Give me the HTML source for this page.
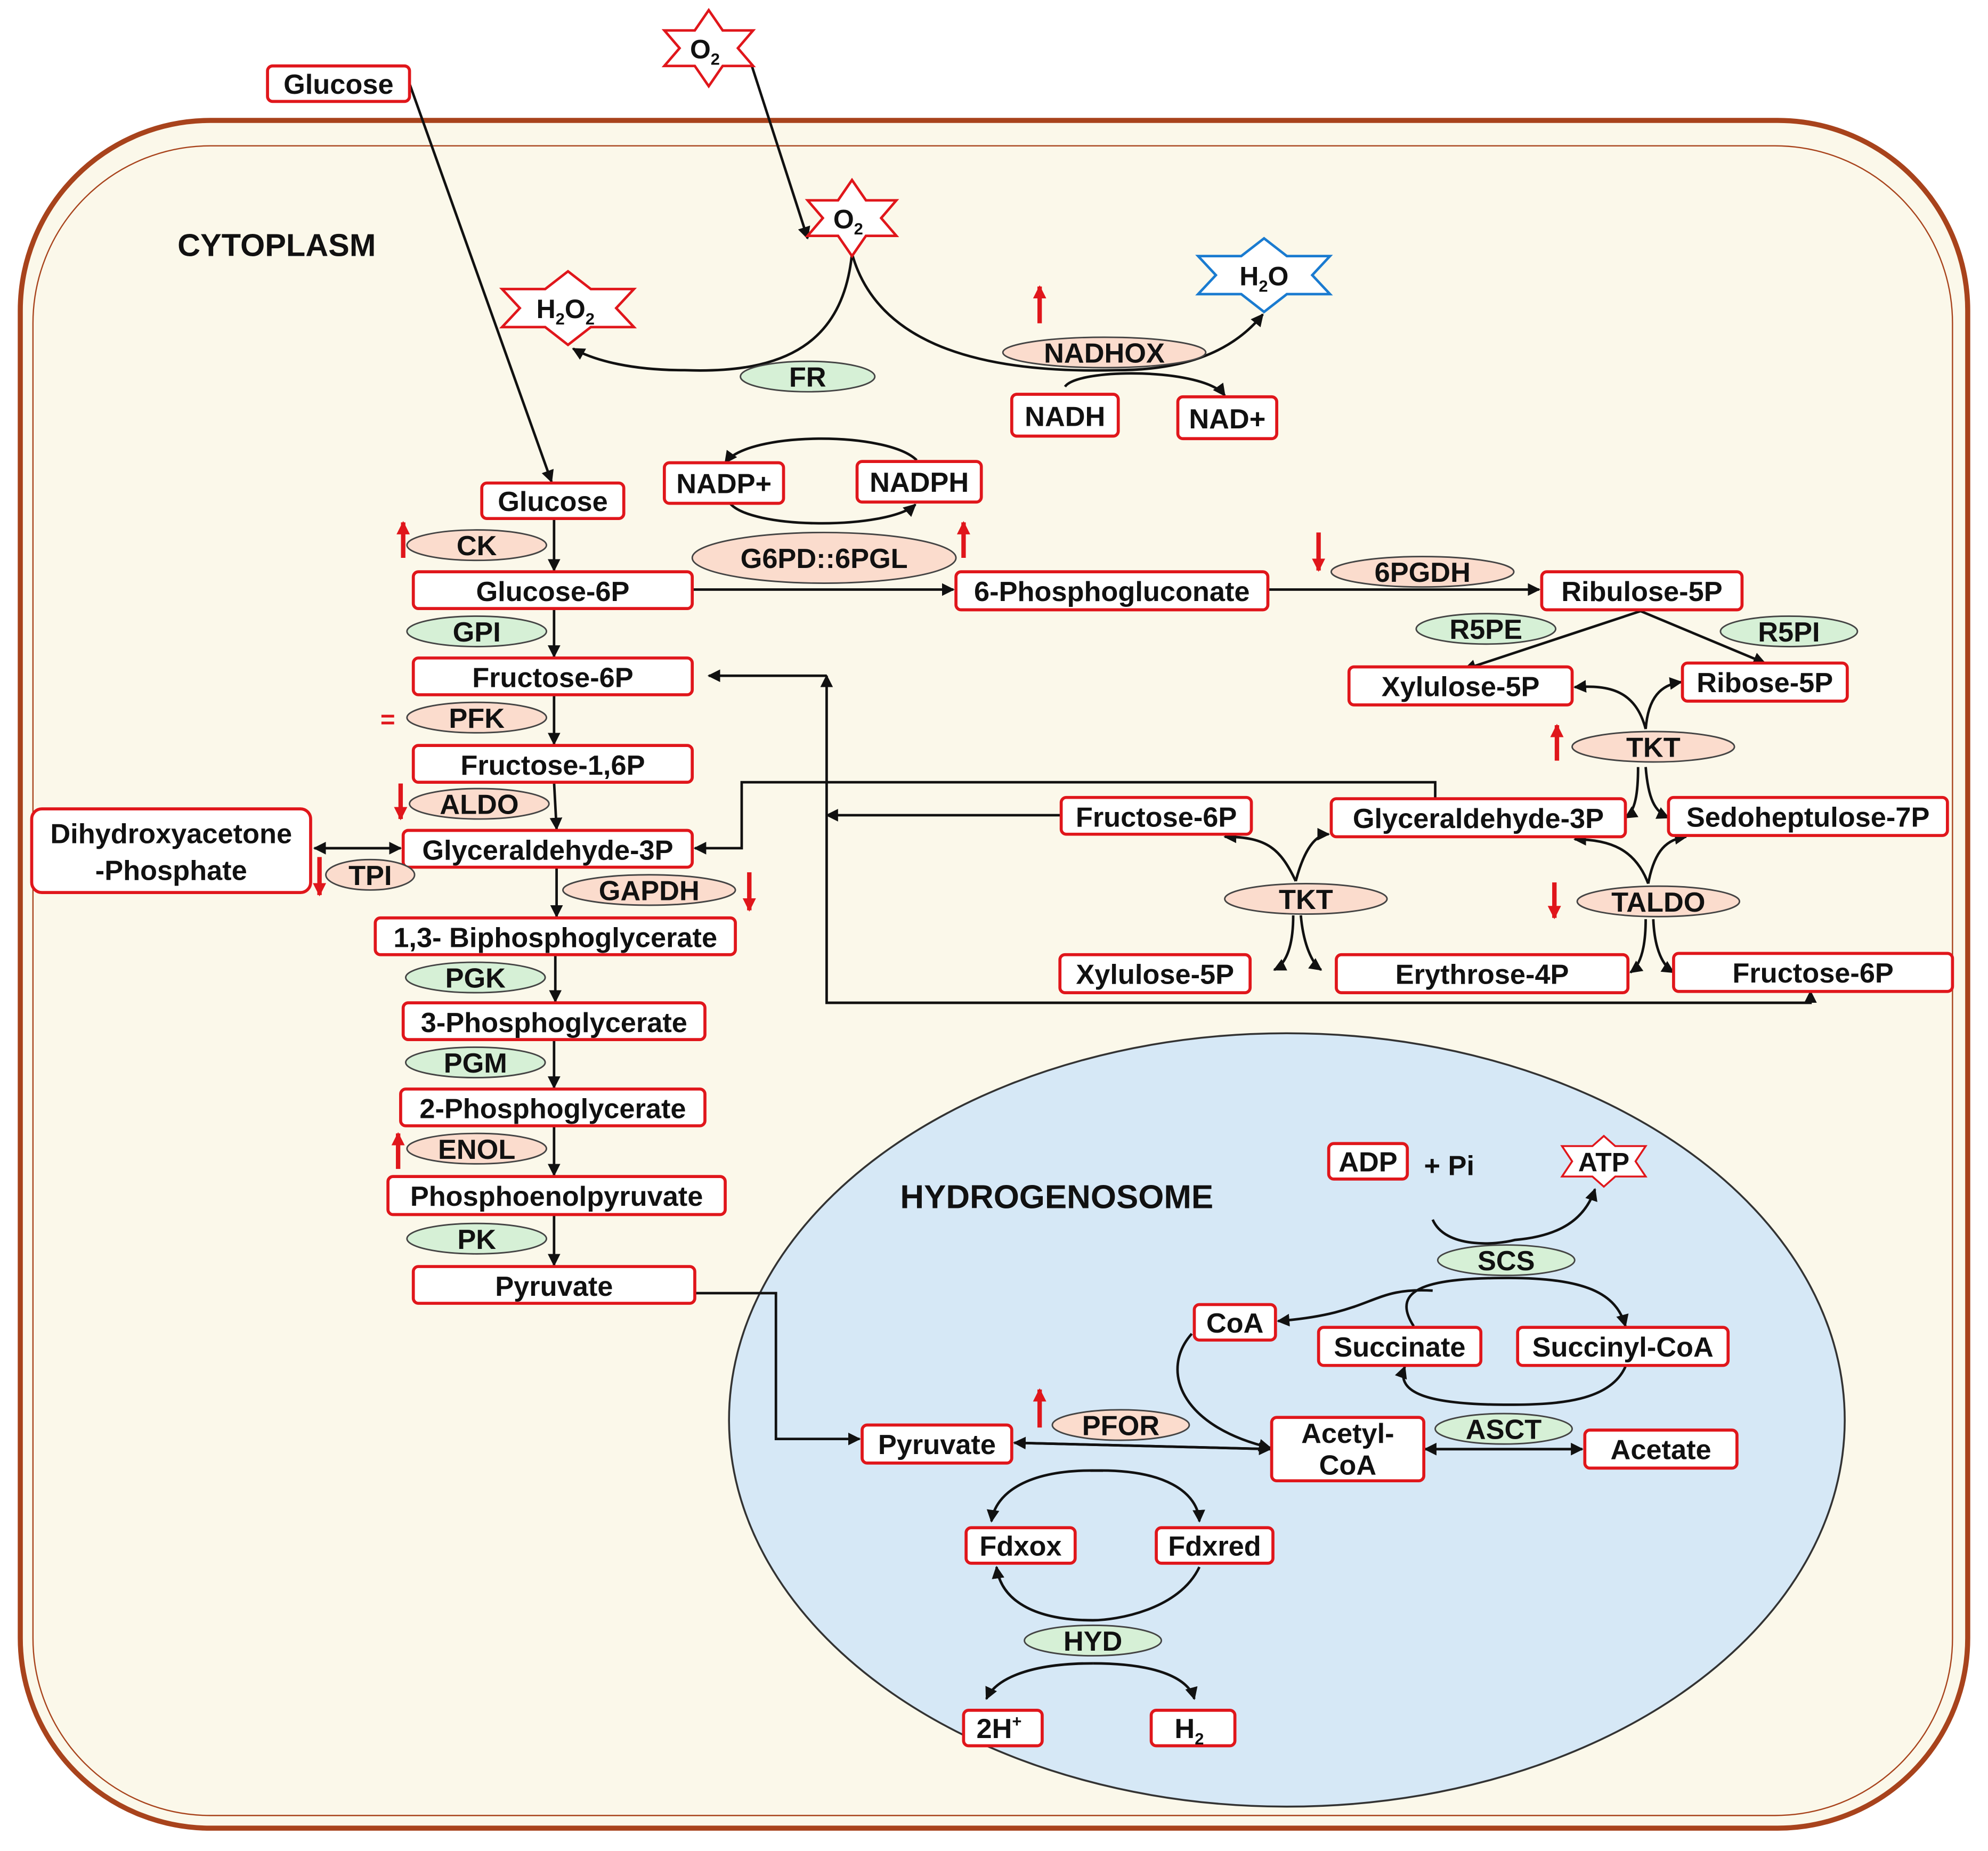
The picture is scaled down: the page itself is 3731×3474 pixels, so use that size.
<!DOCTYPE html>
<html><head><meta charset="utf-8"><style>
html,body{margin:0;padding:0;background:#fff}
svg{display:block}
text{font-family:"Liberation Sans",Arial,sans-serif;font-weight:bold;fill:#111}
.b{fill:#fff;stroke:#e0161b;stroke-width:2.4}
.s{fill:#fbdccd;stroke:#444;stroke-width:1.2}
.g{fill:#d6f0d6;stroke:#444;stroke-width:1.2}
.l{fill:none;stroke:#111;stroke-width:2}
.ra{stroke:#e0161b;stroke-width:3.5;fill:none}
</style></head><body>
<svg width="3731" height="3474" viewBox="0 0 1568 1460" preserveAspectRatio="none" xmlns="http://www.w3.org/2000/svg">
<defs>
<marker id="a" viewBox="0 0 10 10" refX="9" refY="5" markerWidth="5" markerHeight="5" orient="auto-start-reverse"><path d="M0,0L10,5L0,10z" fill="#111"/></marker>
<marker id="r" viewBox="0 0 10 10" refX="9" refY="5" markerWidth="3" markerHeight="3" orient="auto"><path d="M0,0L10,5L0,10z" fill="#e0161b"/></marker>
</defs>
<rect x="0" y="0" width="1568" height="1460" fill="#fff"/>
<rect x="16" y="95" width="1536" height="1347" rx="150" fill="#fbf8ea" stroke="#a8431c" stroke-width="4"/>
<rect x="26" y="115" width="1514" height="1317" rx="140" fill="none" stroke="#a8431c" stroke-width="1"/>
<ellipse cx="1015" cy="1120" rx="440" ry="305" fill="#d6e8f6" stroke="#333" stroke-width="1.5"/>
<text x="140" y="202" font-size="25">CYTOPLASM</text>
<text x="710" y="953" font-size="26">HYDROGENOSOME</text>

<g class="l" marker-end="url(#a)">
<path d="M323,66 L435,380"/>
<path d="M593,52 L637,188"/>
<path d="M672,200 C665,270 620,295 540,292 C500,292 470,285 452,275"/>
<path d="M672,200 C690,265 760,295 880,292 C930,292 970,280 996,248"/>
<path d="M840,305 C850,290 950,290 966,312"/>
<path d="M723,363 C700,340 590,340 572,365" />
<path d="M575,396 C590,418 700,418 722,398"/>
<path d="M437,409 L437,450"/>
<path d="M437,480 L437,518"/>
<path d="M437,548 L437,587"/>
<path d="M437,617 L439,654"/>
<path d="M439,684 L439,723"/>
<path d="M438,753 L438,790"/>
<path d="M437,820 L437,858"/>
<path d="M437,888 L437,927"/>
<path d="M437,958 L437,998"/>
<path d="M546,465 L752,465"/>
<path d="M1000,465 L1214,465"/>
<path d="M1294,482 L1155,528"/>
<path d="M1294,482 L1392,523"/>
<path d="M652,533 L559,533"/>
<path d="M1428,791 L652,791 L652,533"/>
<path d="M652,791 L1428,791 L1428,782"/>
<path d="M837,643 L652,643"/>
<path d="M1132,630 L1132,617 L585,617 L585,669 L548,669"/>
<path d="M248,669 L316,669"/>
<path d="M316,669 L248,669"/>
<path d="M1298,575 C1290,545 1270,540 1242,542"/>
<path d="M1298,575 C1300,550 1310,540 1326,538"/>
<path d="M1292,605 C1292,625 1290,640 1282,645"/>
<path d="M1298,605 C1300,630 1305,640 1316,645"/>
<path d="M1022,695 C1010,670 1000,660 966,660"/>
<path d="M1022,695 C1030,665 1040,658 1048,658"/>
<path d="M1020,722 C1020,745 1015,760 1005,765"/>
<path d="M1026,722 C1028,745 1035,760 1042,765"/>
<path d="M1300,697 C1290,670 1270,662 1242,662"/>
<path d="M1300,697 C1305,670 1315,662 1330,660"/>
<path d="M1298,725 C1298,750 1293,762 1286,767"/>
<path d="M1304,725 C1305,750 1312,762 1320,767"/>
<path d="M1130,962 C1140,985 1180,982 1195,978 C1230,975 1250,962 1258,938"/>
<path d="M1115,1046 C1095,1015 1130,1008 1190,1008 C1250,1008 1275,1020 1282,1046"/>
<path d="M1282,1078 C1270,1105 1230,1108 1190,1108 C1130,1108 1100,1100 1108,1078"/>
<path d="M1130,1018 C1080,1015 1085,1036 1008,1042"/>
<path d="M548,1020 L612,1020 L612,1135 L678,1135"/>
<path d="M940,1052 C915,1080 930,1125 1002,1142"/>
<path d="M1002,1143 L800,1138"/>
<path d="M800,1138 L1002,1143"/>
<path d="M1124,1143 L1248,1143"/>
<path d="M1248,1143 L1124,1143"/>
<path d="M870,1160 C810,1158 785,1178 782,1200"/>
<path d="M860,1160 C920,1158 945,1178 946,1200"/>
<path d="M946,1236 C930,1270 880,1278 862,1278 C820,1278 790,1265 786,1236"/>
<path d="M862,1312 C810,1312 785,1325 778,1340"/>
<path d="M862,1312 C915,1312 938,1325 942,1340"/>
</g>

<g font-size="22" text-anchor="middle">
<rect class="b" x="211" y="52" width="112" height="28" rx="4"/><text x="267" y="74">Glucose</text>
<rect class="b" x="380" y="381" width="112" height="28" rx="4"/><text x="436" y="403">Glucose</text>
<rect class="b" x="326" y="451" width="220" height="29" rx="4"/><text x="436" y="474">Glucose-6P</text>
<rect class="b" x="326" y="519" width="220" height="29" rx="4"/><text x="436" y="542">Fructose-6P</text>
<rect class="b" x="326" y="588" width="220" height="29" rx="4"/><text x="436" y="611">Fructose-1,6P</text>
<rect class="b" x="318" y="655" width="228" height="29" rx="4"/><text x="432" y="678">Glyceraldehyde-3P</text>
<rect class="b" x="25" y="638" width="220" height="66" rx="8"/><text x="135" y="665">Dihydroxyacetone</text><text x="135" y="694">-Phosphate</text>
<rect class="b" x="296" y="724" width="284" height="29" rx="4"/><text x="438" y="747">1,3- Biphosphoglycerate</text>
<rect class="b" x="318" y="791" width="238" height="29" rx="4"/><text x="437" y="814">3-Phosphoglycerate</text>
<rect class="b" x="316" y="859" width="240" height="29" rx="4"/><text x="436" y="882">2-Phosphoglycerate</text>
<rect class="b" x="306" y="928" width="266" height="30" rx="4"/><text x="439" y="951">Phosphoenolpyruvate</text>
<rect class="b" x="326" y="999" width="222" height="29" rx="4"/><text x="437" y="1022">Pyruvate</text>
<rect class="b" x="524" y="365" width="94" height="32" rx="4"/><text x="571" y="389">NADP+</text>
<rect class="b" x="676" y="364" width="98" height="32" rx="4"/><text x="725" y="388">NADPH</text>
<rect class="b" x="798" y="311" width="84" height="33" rx="4"/><text x="840" y="336">NADH</text>
<rect class="b" x="929" y="313" width="78" height="33" rx="4"/><text x="968" y="338">NAD+</text>
<rect class="b" x="754" y="451" width="246" height="30" rx="4"/><text x="877" y="474">6-Phosphogluconate</text>
<rect class="b" x="1216" y="451" width="158" height="30" rx="4"/><text x="1295" y="474">Ribulose-5P</text>
<rect class="b" x="1064" y="526" width="176" height="30" rx="4"/><text x="1152" y="549">Xylulose-5P</text>
<rect class="b" x="1327" y="523" width="130" height="30" rx="4"/><text x="1392" y="546">Ribose-5P</text>
<rect class="b" x="837" y="629" width="150" height="29" rx="4"/><text x="912" y="652">Fructose-6P</text>
<rect class="b" x="1050" y="630" width="232" height="30" rx="4"/><text x="1166" y="653">Glyceraldehyde-3P</text>
<rect class="b" x="1316" y="629" width="220" height="30" rx="4"/><text x="1426" y="652">Sedoheptulose-7P</text>
<rect class="b" x="836" y="753" width="150" height="30" rx="4"/><text x="911" y="776">Xylulose-5P</text>
<rect class="b" x="1054" y="753" width="230" height="30" rx="4"/><text x="1169" y="776">Erythrose-4P</text>
<rect class="b" x="1320" y="752" width="220" height="30" rx="4"/><text x="1430" y="775">Fructose-6P</text>
<rect class="b" x="1048" y="902" width="62" height="28" rx="4"/><text x="1079" y="924">ADP</text>
<text x="1143" y="927">+ Pi</text>
<rect class="b" x="942" y="1029" width="64" height="28" rx="4"/><text x="974" y="1051">CoA</text>
<rect class="b" x="1040" y="1047" width="128" height="30" rx="4"/><text x="1104" y="1070">Succinate</text>
<rect class="b" x="1197" y="1047" width="166" height="30" rx="4"/><text x="1280" y="1070">Succinyl-CoA</text>
<rect class="b" x="680" y="1124" width="118" height="30" rx="4"/><text x="739" y="1147">Pyruvate</text>
<rect class="b" x="1003" y="1118" width="120" height="50" rx="4"/><text x="1063" y="1138">Acetyl-</text><text x="1063" y="1163">CoA</text>
<rect class="b" x="1250" y="1128" width="120" height="30" rx="4"/><text x="1310" y="1151">Acetate</text>
<rect class="b" x="762" y="1205" width="86" height="28" rx="4"/><text x="805" y="1227">Fdxox</text>
<rect class="b" x="912" y="1205" width="92" height="28" rx="4"/><text x="958" y="1227">Fdxred</text>
<rect class="b" x="760" y="1349" width="62" height="28" rx="4"/><text x="788" y="1371">2H<tspan font-size="13" dy="-9">+</tspan></text>
<rect class="b" x="908" y="1349" width="66" height="28" rx="4"/><text x="938" y="1371">H<tspan font-size="13" dy="5">2</tspan></text>
</g>

<g font-size="22" text-anchor="middle">
<ellipse class="s" cx="376" cy="430" rx="55" ry="12"/><text x="376" y="438">CK</text>
<ellipse class="g" cx="376" cy="498" rx="55" ry="12"/><text x="376" y="506">GPI</text>
<ellipse class="s" cx="376" cy="566" rx="55" ry="12"/><text x="376" y="574">PFK</text>
<ellipse class="s" cx="378" cy="634" rx="55" ry="12"/><text x="378" y="642">ALDO</text>
<ellipse class="s" cx="292" cy="690" rx="35" ry="12"/><text x="292" y="698">TPI</text>
<ellipse class="s" cx="512" cy="702" rx="68" ry="12"/><text x="512" y="710">GAPDH</text>
<ellipse class="g" cx="375" cy="771" rx="55" ry="12"/><text x="375" y="779">PGK</text>
<ellipse class="g" cx="375" cy="838" rx="55" ry="12"/><text x="375" y="846">PGM</text>
<ellipse class="s" cx="376" cy="906" rx="55" ry="12"/><text x="376" y="914">ENOL</text>
<ellipse class="g" cx="376" cy="977" rx="55" ry="12"/><text x="376" y="985">PK</text>
<ellipse class="s" cx="650" cy="440" rx="104" ry="20"/><text x="650" y="448">G6PD::6PGL</text>
<ellipse class="s" cx="1122" cy="451" rx="72" ry="12"/><text x="1122" y="459">6PGDH</text>
<ellipse class="g" cx="637" cy="297" rx="53" ry="12"/><text x="637" y="305">FR</text>
<ellipse class="s" cx="871" cy="278" rx="80" ry="12"/><text x="871" y="286">NADHOX</text>
<ellipse class="g" cx="1172" cy="496" rx="55" ry="12"/><text x="1172" y="504">R5PE</text>
<ellipse class="g" cx="1411" cy="498" rx="54" ry="12"/><text x="1411" y="506">R5PI</text>
<ellipse class="s" cx="1304" cy="589" rx="64" ry="12"/><text x="1304" y="597">TKT</text>
<ellipse class="s" cx="1030" cy="709" rx="64" ry="12"/><text x="1030" y="717">TKT</text>
<ellipse class="s" cx="1308" cy="711" rx="64" ry="12"/><text x="1308" y="719">TALDO</text>
<ellipse class="g" cx="1188" cy="994" rx="54" ry="12"/><text x="1188" y="1002">SCS</text>
<ellipse class="s" cx="884" cy="1124" rx="54" ry="12"/><text x="884" y="1132">PFOR</text>
<ellipse class="g" cx="1186" cy="1127" rx="54" ry="12"/><text x="1186" y="1135">ASCT</text>
<ellipse class="g" cx="862" cy="1294" rx="54" ry="12"/><text x="862" y="1302">HYD</text>
</g>

<g font-size="21" text-anchor="middle">
<polygon points="559,8 570,24 594,24 582,38 594,52 570,52 559,68 548,52 524,52 536,38 524,24 548,24" fill="#fff" stroke="#e0161b" stroke-width="2"/>
<text x="556" y="46">O<tspan font-size="13" dy="5">2</tspan></text>
<polygon points="672,142 683,158 707,158 695,172 707,186 683,186 672,202 661,186 637,186 649,172 637,158 661,158" fill="#fff" stroke="#e0161b" stroke-width="2"/>
<text x="669" y="180">O<tspan font-size="13" dy="5">2</tspan></text>
<polygon points="448,214 466,228 500,228 486,243 500,258 466,258 448,272 430,258 396,258 410,243 396,228 430,228" fill="#fff" stroke="#e0161b" stroke-width="2"/>
<text x="446" y="251">H<tspan font-size="13" dy="5">2</tspan><tspan dy="-5">O</tspan><tspan font-size="13" dy="5">2</tspan></text>
<polygon points="997,188 1015,202 1049,202 1035,217 1049,232 1015,232 997,246 979,232 945,232 959,217 945,202 979,202" fill="#fff" stroke="#1a7bd0" stroke-width="2"/>
<text x="997" y="225">H<tspan font-size="13" dy="5">2</tspan><tspan dy="-5">O</tspan></text>
<polygon points="1265,896 1274,904 1298,904 1290,916 1298,928 1274,928 1265,936 1256,928 1232,928 1240,916 1232,904 1256,904" fill="#fff" stroke="#e0161b" stroke-width="1.5"/>
<text x="1265" y="924">ATP</text>
</g>

<g class="ra" marker-end="url(#r)">
<path d="M318,440 L318,412"/>
<path d="M760,440 L760,412"/>
<path d="M1040,420 L1040,450"/>
<path d="M820,255 L820,226"/>
<path d="M1228,600 L1228,572"/>
<path d="M316,618 L316,646"/>
<path d="M252,676 L252,706"/>
<path d="M591,688 L591,718"/>
<path d="M1226,696 L1226,724"/>
<path d="M314,922 L314,894"/>
<path d="M820,1126 L820,1096"/>
</g>
<text x="300" y="574" font-size="20" style="fill:#e0161b">=</text>
</svg>
</body></html>
